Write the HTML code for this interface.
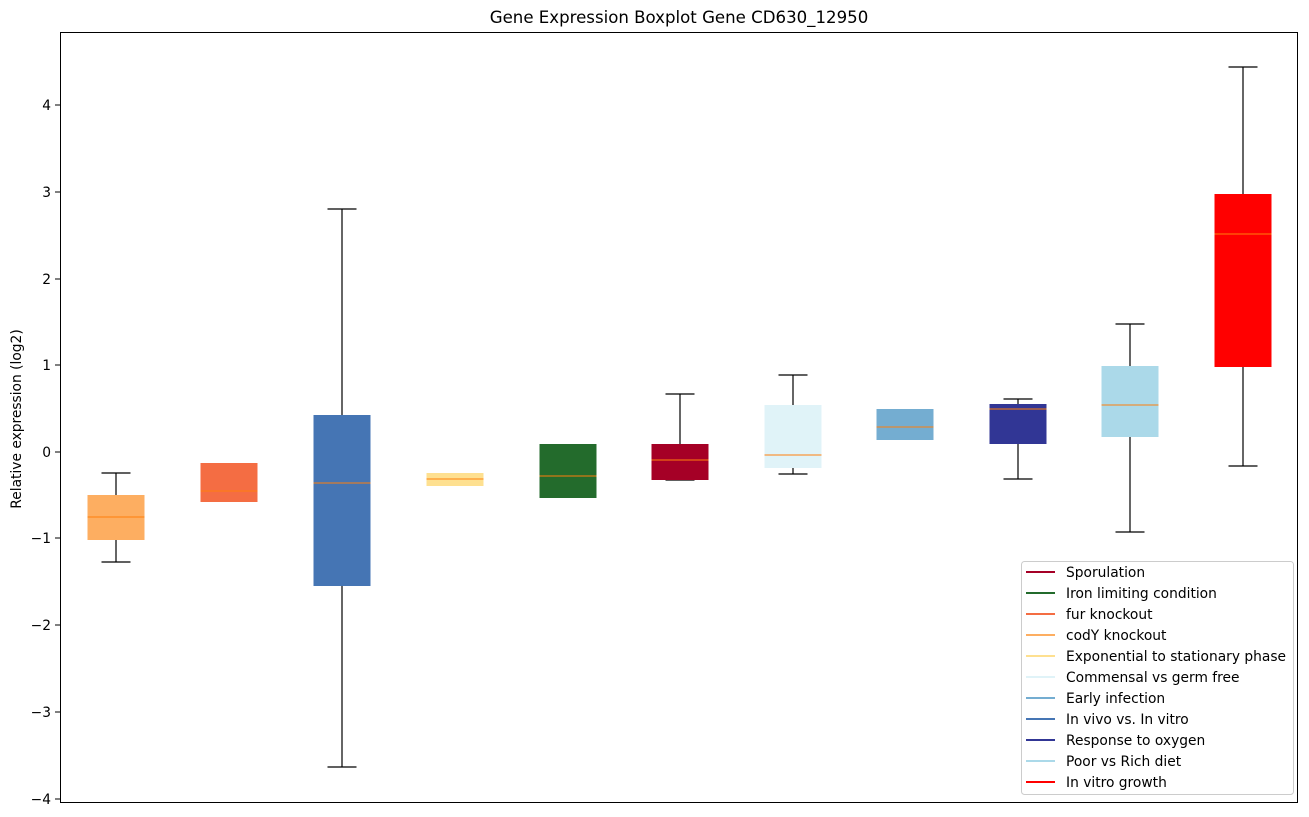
<!DOCTYPE html><html><head><style>body{margin:0;background:#fff}svg{display:block;font-family:"DejaVu Sans","Liberation Sans",sans-serif}</style></head><body>
<svg width="1309" height="817" viewBox="0 0 1309 817" xmlns="http://www.w3.org/2000/svg">
<rect width="1309" height="817" fill="#fff"/>
<text x="679" y="23" font-size="16.6" text-anchor="middle" fill="#000">Gene Expression Boxplot Gene CD630_12950</text>
<text transform="translate(21,419) rotate(-90)" font-size="13.8" text-anchor="middle">Relative expression (log2)</text>
<g font-size="13.8" text-anchor="end" fill="#000">
<g stroke="#000"><line x1="55" x2="60" y1="105" y2="105"/><line x1="55" x2="60" y1="192" y2="192"/><line x1="55" x2="60" y1="279" y2="279"/><line x1="55" x2="60" y1="365" y2="365"/><line x1="55" x2="60" y1="452" y2="452"/><line x1="55" x2="60" y1="538" y2="538"/><line x1="55" x2="60" y1="625" y2="625"/><line x1="55" x2="60" y1="712" y2="712"/><line x1="55" x2="60" y1="799" y2="799"/></g>
<text x="51" y="110">4</text><text x="51" y="197">3</text><text x="51" y="284">2</text><text x="51" y="370">1</text><text x="51" y="457">0</text><text x="51" y="543">−1</text><text x="51" y="630">−2</text><text x="51" y="717">−3</text><text x="51" y="804">−4</text>
</g>
<g stroke-width="1.2">
<g stroke="#000">
<line x1="116" x2="116" y1="473" y2="562"/><line x1="101.5" x2="130.5" y1="473" y2="473"/><line x1="101.5" x2="130.5" y1="562" y2="562"/>
<line x1="342" x2="342" y1="209" y2="767"/><line x1="327.5" x2="356.5" y1="209" y2="209"/><line x1="327.5" x2="356.5" y1="767" y2="767"/>
<line x1="680" x2="680" y1="394" y2="480"/><line x1="665.5" x2="694.5" y1="394" y2="394"/><line x1="665.5" x2="694.5" y1="480" y2="480"/>
<line x1="793" x2="793" y1="375" y2="474"/><line x1="778.5" x2="807.5" y1="375" y2="375"/><line x1="778.5" x2="807.5" y1="474" y2="474"/>
<line x1="1018" x2="1018" y1="399" y2="479"/><line x1="1003.5" x2="1032.5" y1="399" y2="399"/><line x1="1003.5" x2="1032.5" y1="479" y2="479"/>
<line x1="1130" x2="1130" y1="324" y2="532"/><line x1="1115.5" x2="1144.5" y1="324" y2="324"/><line x1="1115.5" x2="1144.5" y1="532" y2="532"/>
<line x1="1243" x2="1243" y1="67" y2="466"/><line x1="1228.5" x2="1257.5" y1="67" y2="67"/><line x1="1228.5" x2="1257.5" y1="466" y2="466"/>
</g>
<rect x="87.5" y="495" width="57" height="45" fill="#fdae61"/>
<rect x="200.5" y="463" width="57" height="39" fill="#f46d43"/>
<rect x="313.5" y="415" width="57" height="171" fill="#4575b4"/>
<rect x="426.5" y="473" width="57" height="13" fill="#fee090"/>
<rect x="539.5" y="444" width="57" height="54" fill="#236b2c"/>
<rect x="651.5" y="444" width="57" height="36" fill="#a50026"/>
<rect x="764.5" y="405" width="57" height="63" fill="#e0f3f8"/>
<rect x="876.5" y="409" width="57" height="31" fill="#74add1"/>
<rect x="989.5" y="404" width="57" height="40" fill="#313695"/>
<rect x="1101.5" y="366" width="57" height="71" fill="#abd9e9"/>
<rect x="1214.5" y="194" width="57" height="173" fill="#ff0000"/>
<g stroke="#ff7f0e" stroke-opacity="0.8">
<line x1="87.5" x2="144.5" y1="517" y2="517"/><line x1="200.5" x2="257.5" y1="491" y2="491"/><line x1="313.5" x2="370.5" y1="483" y2="483"/><line x1="426.5" x2="483.5" y1="479" y2="479"/><line x1="539.5" x2="596.5" y1="476" y2="476"/><line x1="651.5" x2="708.5" y1="460" y2="460"/><line x1="764.5" x2="821.5" y1="455" y2="455"/><line x1="876.5" x2="933.5" y1="427" y2="427"/><line x1="989.5" x2="1046.5" y1="409" y2="409"/><line x1="1101.5" x2="1158.5" y1="405" y2="405"/><line x1="1214.5" x2="1271.5" y1="234" y2="234"/>
</g>
</g>
<rect x="60.5" y="32.5" width="1237" height="770" fill="none" stroke="#000"/>
<rect x="1021.5" y="561.5" width="272" height="233" fill="#fff" fill-opacity="0.8" stroke="#ccc" rx="3"/>
<g font-size="13.8" fill="#000" stroke-width="2">
<line x1="1026" x2="1055" y1="572" y2="572" stroke="#a50026"/><text x="1066" y="577">Sporulation</text>
<line x1="1026" x2="1055" y1="593" y2="593" stroke="#236b2c"/><text x="1066" y="598">Iron limiting condition</text>
<line x1="1026" x2="1055" y1="614" y2="614" stroke="#f46d43"/><text x="1066" y="619">fur knockout</text>
<line x1="1026" x2="1055" y1="635" y2="635" stroke="#fdae61"/><text x="1066" y="640">codY knockout</text>
<line x1="1026" x2="1055" y1="656" y2="656" stroke="#fee090"/><text x="1066" y="661">Exponential to stationary phase</text>
<line x1="1026" x2="1055" y1="677" y2="677" stroke="#e0f3f8"/><text x="1066" y="682">Commensal vs germ free</text>
<line x1="1026" x2="1055" y1="698" y2="698" stroke="#74add1"/><text x="1066" y="703">Early infection</text>
<line x1="1026" x2="1055" y1="719" y2="719" stroke="#4575b4"/><text x="1066" y="724">In vivo vs. In vitro</text>
<line x1="1026" x2="1055" y1="740" y2="740" stroke="#313695"/><text x="1066" y="745">Response to oxygen</text>
<line x1="1026" x2="1055" y1="761" y2="761" stroke="#abd9e9"/><text x="1066" y="766">Poor vs Rich diet</text>
<line x1="1026" x2="1055" y1="782" y2="782" stroke="#ff0000"/><text x="1066" y="787">In vitro growth</text>
</g>
</svg></body></html>
